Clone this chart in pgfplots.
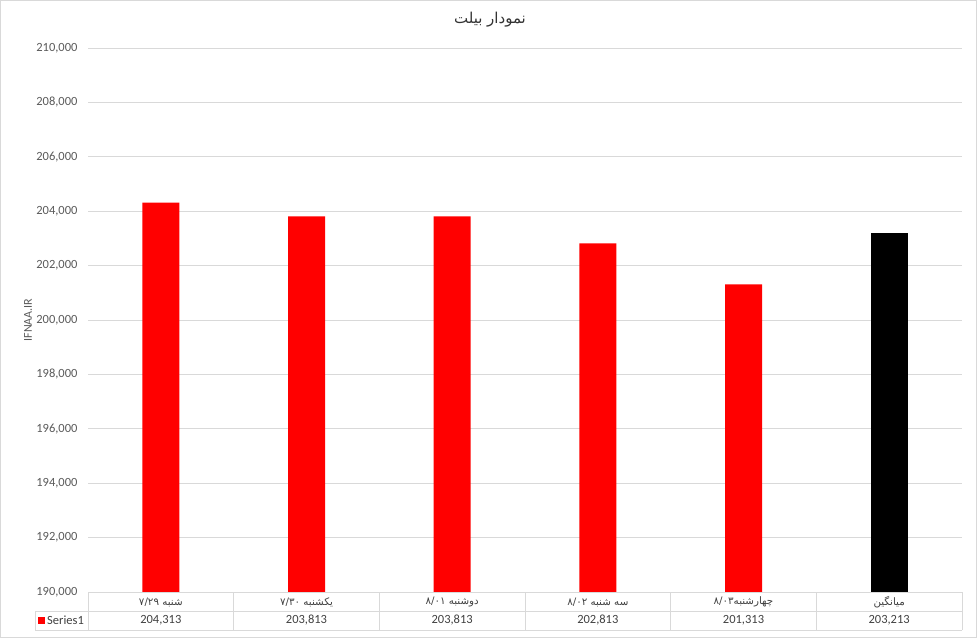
\documentclass[border=0pt]{standalone}
\usepackage{pgfplots}
\pgfplotsset{compat=1.18}
\usepackage{fontspec}
\setmainfont{Carlito}
\newfontfamily\fa[Script=Arabic]{DejaVu Sans}
\TeXXeTstate=1
\definecolor{txt}{HTML}{595959}
\definecolor{tbl}{HTML}{404040}
\definecolor{grd}{HTML}{D9D9D9}
\tikzset{vnode/.style={tbl, font=\fontsize{12.5}{15}\selectfont, anchor=center, yshift=-28.5pt}}
\begin{document}
\begin{tikzpicture}[x=1pt,y=1pt]
\path[use as bounding box] (0,0) rectangle (977,638);
\draw[grd] (0.5,0.5) rectangle (976.5,637.5);
\begin{axis}[at={(88pt,46pt)}, anchor=south west, scale only axis,
  width=874pt, height=544pt,
  ymin=190000, ymax=210000,
  ytick={190000,192000,194000,196000,198000,200000,202000,204000,206000,208000,210000},
  xmin=-0.5, xmax=5.5,
  xtick={0,1,2,3,4,5},
  xticklabels={
    {\fa\beginR شنبه \beginL۷/۲۹\endL\endR},
    {\fa\beginR یکشنبه \beginL۷/۳۰\endL\endR},
    {\fa\beginR دوشنبه \beginL۸/۰۱\endL\endR},
    {\fa\beginR سه شنبه \beginL۸/۰۲\endL\endR},
    {\fa\beginR چهارشنبه\beginL۸/۰۳\endL\endR},
    {\fa\beginR میانگین\endR}},
  xticklabel style={tbl, font=\fontsize{10.3}{12}\selectfont, anchor=center, yshift=-10pt},
  ymajorgrids, grid style={grd, line width=0.8pt},
  axis line style={draw=none}, major tick length=0pt,
  tick style={draw=none},
  /pgf/number format/assume math mode=true,
  yticklabel style={txt, font=\fontsize{12.5}{15}\selectfont, anchor=east, xshift=-7pt,
    /pgf/number format/.cd, fixed, 1000 sep={,}},
  scaled y ticks=false,
  ybar, bar width=37pt, bar shift=0pt,
  ylabel={IFNAA.IR},
  ylabel style={txt, font=\fontsize{12}{14}\selectfont, at={(axis description cs:-0.0686,0.5)}, anchor=center},
  clip=false,
]
\addplot[fill=red, draw=none] coordinates {(0,204313) (1,203813) (2,203813) (3,202813) (4,201313)};
\addplot[fill=black, draw=none] coordinates {(5,203213)};
\node[vnode] at (axis cs:0,190000) {204,313};
\node[vnode] at (axis cs:1,190000) {203,813};
\node[vnode] at (axis cs:2,190000) {203,813};
\node[vnode] at (axis cs:3,190000) {202,813};
\node[vnode] at (axis cs:4,190000) {201,313};
\node[vnode] at (axis cs:5,190000) {203,213};
\end{axis}
% data table lines
\draw[grd, line width=0.8pt] (88,46) -- (962,46);
\draw[grd, line width=0.8pt] (35,27) -- (962,27);
\draw[grd, line width=0.8pt] (35,8) -- (962,8);
\draw[grd, line width=0.8pt] (35,8) -- (35,27);
\foreach \x in {88,233.67,379.33,525,670.67,816.33,962}{
  \draw[grd, line width=0.8pt] (\x,8) -- (\x,46);
}
\fill[red] (38,14.5) rectangle (44.5,21);
\node[tbl, font=\fontsize{12.5}{15}\selectfont, anchor=west, inner sep=0pt] at (47,17.5) {Series1};
\node[font=\fa\fontsize{15}{18}\selectfont, color=black!80] at (490,618) {\beginR نمودار بیلت\endR};
\end{tikzpicture}
\end{document}
